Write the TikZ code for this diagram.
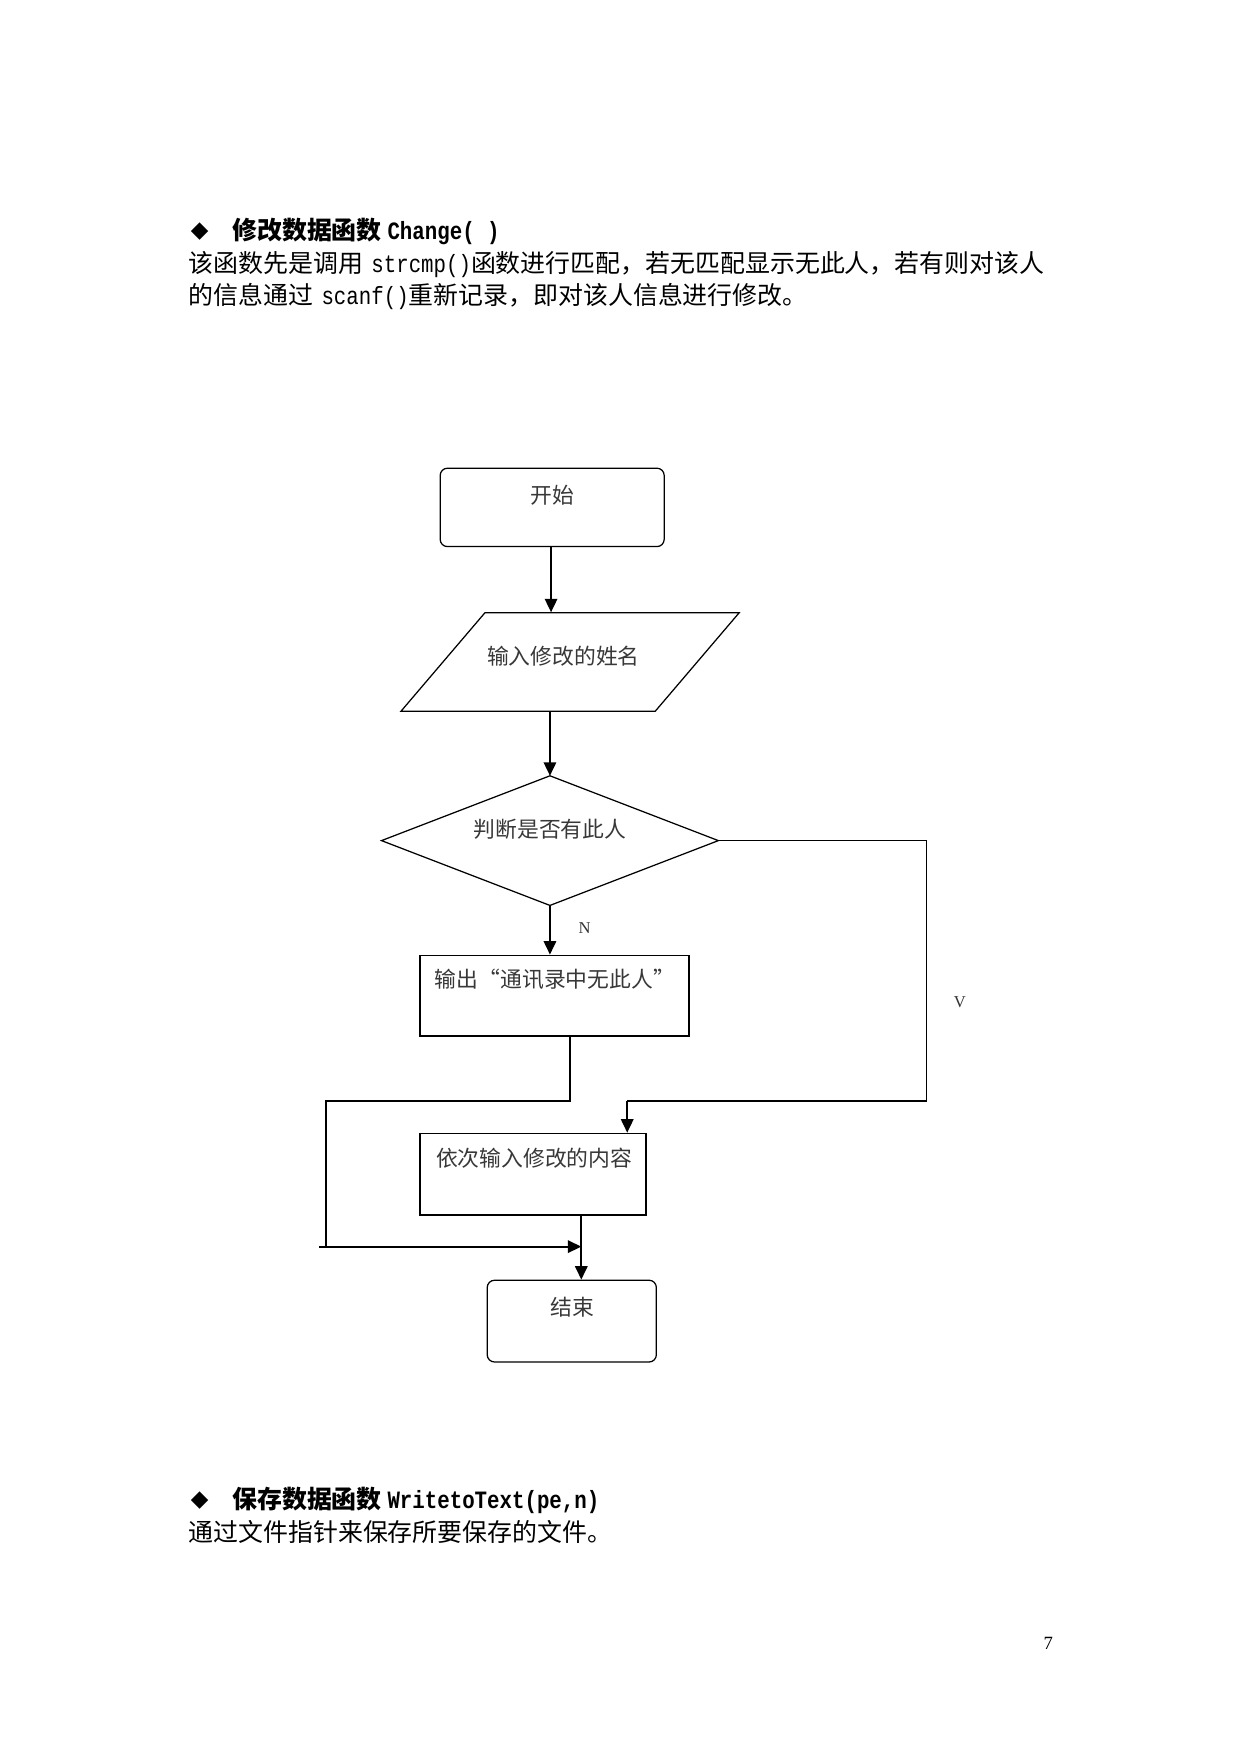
\documentclass[tikz,border=0pt]{standalone}
\usepackage{fontspec}
\usetikzlibrary{arrows.meta,fit}
\setmainfont{Noto Sans CJK SC}
\newfontfamily\cjk{Noto Sans CJK SC}
\newfontfamily\hw[FakeStretch=0.833]{Liberation Mono}
\newfontfamily\sym{DejaVu Sans}
\newfontfamily\lab{Liberation Serif}
\begin{document}
\begin{tikzpicture}[x=0.018953cm,y=-0.018953cm,
  shapeline/.style={draw=black, line width=0.6pt},
  roundbox/.style={shapeline, rounded corners=3.5pt, inner sep=0pt},
  rectbox/.style={draw=black, line width=0.8pt, inner sep=0pt},
  anchorbox/.style={inner sep=0pt},
  plain/.style={draw=black, line width=0.6pt},
  arr/.style={draw=black, line width=0.9pt, -{Triangle[length=6.5pt,width=6pt]}},
  ft/.style={inner sep=0pt, text=black!78, font=\cjk\fontsize{10.5pt}{12pt}\selectfont},
  body/.style={inner sep=0pt, anchor=west, text=black, font=\cjk\fontsize{12pt}{14pt}\selectfont},
  lbl/.style={inner sep=0pt, text=black!80, font=\lab\fontsize{8pt}{9pt}\selectfont}
]
\useasboundingbox (0,0) rectangle (1108,1566);

% ---- text above ----
\node[body] (b1) at (170,207) {\sym\fontsize{11pt}{12pt}\selectfont ◆};
\node[body] (h1) at (207,207) {\bfseries 修改数据函数 {\hw\bfseries Change( )}};
\node[body] (p1) at (168,236) {该函数先是调用\hspace{4pt}{\hw strcmp()}函数进行匹配，若无匹配显示无此人，若有则对该人};
\node[body] (p2) at (168,265) {的信息通过\hspace{4pt}{\hw scanf()}重新记录，即对该人信息进行修改。};

% ---- flowchart shapes ----
\coordinate (s1) at (393,418); \coordinate (s2) at (593,488);
\node[roundbox, fit=(s1)(s2)] (start) {};
\node[ft] (tstart) at (493,442) {开始};

\coordinate (i1) at (358,547); \coordinate (i2) at (660,635);
\node[anchorbox, fit=(i1)(i2)] (inp) {};
\draw[shapeline] (433,547) -- (660,547) -- (585,635) -- (358,635) -- cycle;
\node[ft] (tinp) at (503,586) {输入修改的姓名};

\coordinate (d1) at (341,693); \coordinate (d2) at (641,808);
\node[anchorbox, fit=(d1)(d2)] (dec) {};
\draw[shapeline] (dec.north) -- (dec.east) -- (dec.south) -- (dec.west) -- cycle;
\node[ft] (tdec) at (491,740) {判断是否有此人};

\coordinate (o1) at (375,853); \coordinate (o2) at (615,925);
\node[rectbox, fit=(o1)(o2)] (out) {};
\node[ft, anchor=west] (tout) at (388,874) {输出“通讯录中无此人”};

\coordinate (m1) at (375,1012); \coordinate (m2) at (577,1085);
\node[rectbox, fit=(m1)(m2)] (mod) {};
\node[ft, anchor=west] (tmod) at (389,1034) {依次输入修改的内容};

\coordinate (e1) at (435,1143); \coordinate (e2) at (586,1216);
\node[roundbox, fit=(e1)(e2)] (end) {};
\node[ft] (tend) at (511,1167) {结束};

% ---- labels ----
\node[lbl] (lN) at (522,829) {N};
\node[lbl] (lY) at (857,895) {V};
\node[inner sep=0pt, font=\lab\fontsize{9pt}{10pt}\selectfont] (pg) at (936,1467) {7};

% ---- connectors ----
\coordinate (a1) at (492,488);
\draw[arr] (a1) -- (a1 |- inp.north);
\draw[arr] (dec.north |- inp.south) -- (dec.north);
\draw[arr] (dec.south) -- (dec.south |- out.north);

\coordinate (yr) at (827,983);
\coordinate (yin) at (560,983);
\draw[plain] (dec.east) -| (yr) -- (yin);
\draw[arr] (yin) -- (yin |- mod.north);

\coordinate (nb) at (509,983);
\coordinate (nl) at (291,983);
\coordinate (nd) at (291,1113);
\draw[plain] (out.south -| nb) -- (nb) -- (nl) -- (nd);

\coordinate (jl) at (285,1113);
\coordinate (jn) at (519,1113);
\draw[arr] (jl) -- (jn);
\draw[arr] (mod.south -| jn) -- (jn |- end.north);

% ---- text below ----
\node[body] (b2) at (170,1340) {\sym\fontsize{11pt}{12pt}\selectfont ◆};
\node[body] (h2) at (207,1340) {\bfseries 保存数据函数 {\hw\bfseries WritetoText(pe,n)}};
\node[body] (p3) at (168,1368) {通过文件指针来保存所要保存的文件。};
\end{tikzpicture}
\end{document}
